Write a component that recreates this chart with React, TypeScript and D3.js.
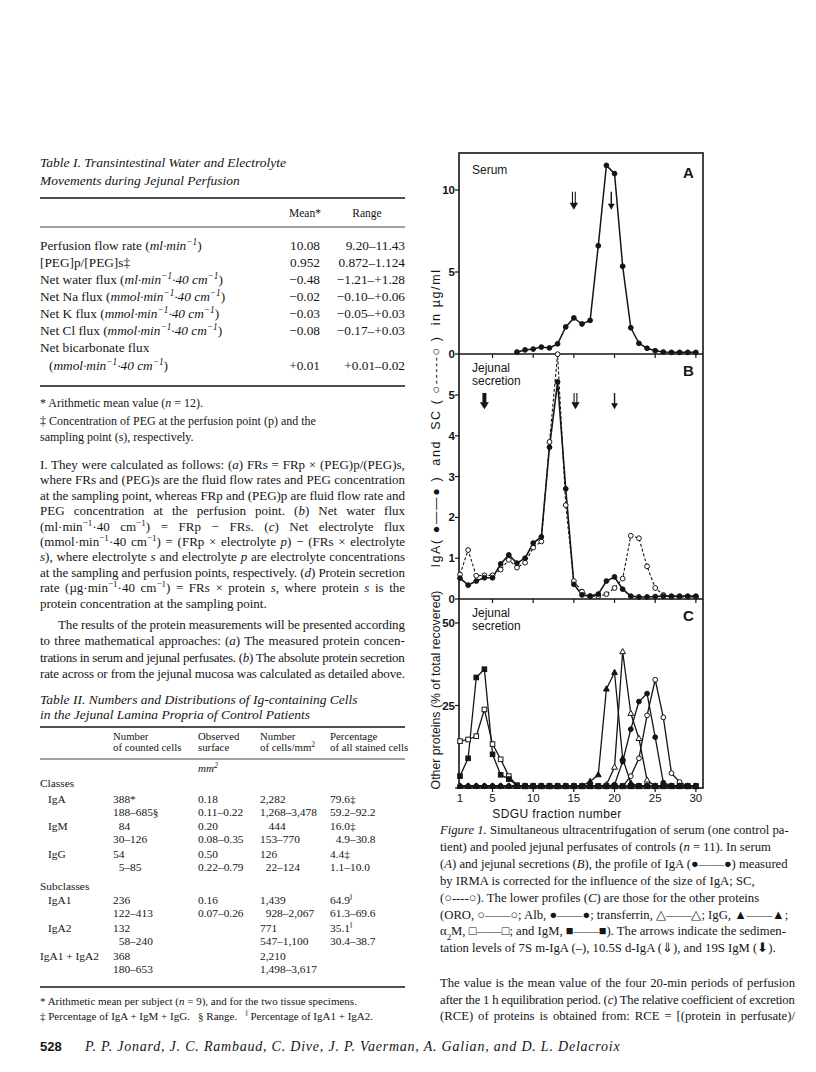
import React from "react";
import * as d3 from "d3";

// ---- figure data ----
const xTicks = [1, 5, 10, 15, 20, 25, 30];

// A: serum IgA, fractions 8..30
const serumFirst = 8;
const serumIgA = [0.12, 0.25, 0.3, 0.42, 0.37, 0.62, 1.65, 2.2, 1.83, 2.05, 6.6, 11.5, 11.0, 5.35, 1.6, 0.65, 0.35, 0.2, 0.12, 0.1, 0.1, 0.1, 0.1];

// B: jejunal secretion, fractions 1..30
const jejIgA = [0.51, 0.34, 0.44, 0.52, 0.52, 0.86, 1.08, 0.88, 1.0, 1.37, 1.52, 3.72, 5.32, 2.7, 0.36, 0.1, 0.07, 0.12, 0.44, 0.54, 0.24, 0.07, 0.05, 0.05, 0.06, 0.07, 0.07, 0.07, 0.07, 0.07];
const jejSC = [0.6, 1.2, 0.57, 0.58, 0.58, 0.72, 0.96, 0.77, 0.89, 1.26, 1.41, 3.85, 6.0, 2.3, 0.44, 0.18, 0.07, 0.07, 0.12, 0.27, 0.5, 1.55, 1.49, 0.8, 0.27, 0.1, 0.05, 0.05, 0.05, 0.05];

// C: other proteins, % of total recovered, fractions 1..30
const oro = [0.5, 0.5, 0.5, 0.5, 0.5, 0.5, 0.5, 0.5, 0.5, 0.5, 0.5, 0.5, 0.5, 0.5, 0.5, 0.5, 0.5, 0.5, 0.5, 0.5, 0.5, 3.6, 9, 22, 32.8, 21.4, 4.5, 1.8, 0.5, 0.5];
const alb = [0.6, 0.6, 0.6, 0.6, 0.6, 0.6, 0.6, 0.6, 0.6, 0.6, 0.6, 0.6, 0.6, 0.6, 0.6, 0.6, 0.6, 0.6, 0.6, 1, 8, 17.8, 26.2, 28.6, 15.4, 1.6, 0.6, 0.6, 0.6, 0.6];
const transferrin = [0.5, 0.5, 0.5, 0.5, 0.5, 0.5, 0.5, 0.5, 0.5, 0.5, 0.5, 0.5, 0.5, 0.5, 0.5, 0.5, 0.5, 0.5, 1, 6.3, 41.3, 22.6, 15, 2.4, 0.5, 0.5, 0.5, 0.5, 0.5, 0.5];
const igg = [0.6, 0.6, 0.6, 0.6, 0.6, 0.6, 0.6, 0.6, 0.6, 0.6, 0.6, 0.6, 0.6, 0.6, 0.6, 0.6, 2, 4, 30, 35, 9, 1.5, 0.6, 0.6, 0.6, 0.6, 0.6, 0.6, 0.6, 0.6];
const a2m = [14.2, 14.7, 15.7, 23.8, 13.3, 8.7, 3.6, 0.8, 0.5, 0.5, 0.5, 0.5, 0.5, 0.5, 0.5, 0.5, 0.5, 0.5, 0.5, 0.5, 0.5, 0.5, 0.5, 0.5, 0.5, 0.5, 0.5, 0.5, 0.5, 0.5];
const igm = [3.6, 9, 33.5, 36, 10.2, 4, 2.7, 0.8, 0.6, 0.6, 0.6, 0.6, 0.6, 0.6, 0.6, 0.6, 0.6, 0.6, 0.6, 0.6, 0.6, 0.6, 0.6, 0.6, 0.6, 0.6, 0.6, 0.6, 0.6, 0.6];

const otherSeries = [
  { vals: oro, shape: "circle", filled: false },
  { vals: alb, shape: "circle", filled: true },
  { vals: transferrin, shape: "triangle", filled: false },
  { vals: igg, shape: "triangle", filled: true },
  { vals: a2m, shape: "square", filled: false },
  { vals: igm, shape: "square", filled: true },
];

// sedimentation arrows: panel, fraction, kind
const arrows = [
  { panel: "A", f: 15, kind: "double" },
  { panel: "A", f: 19.6, kind: "thin" },
  { panel: "B", f: 4, kind: "bold" },
  { panel: "B", f: 15.2, kind: "double" },
  { panel: "B", f: 20, kind: "thin" },
];

// ---- page text ----
const t1Title = ["Table I. Transintestinal Water and Electrolyte", "Movements during Jejunal Perfusion"];
const t1Labels = [
  "Perfusion flow rate (_ml·min^−1^_)",
  "[PEG]p/[PEG]s‡",
  "Net water flux (_ml·min^−1^·40 cm^−1^_)",
  "Net Na flux (_mmol·min^−1^·40 cm^−1^_)",
  "Net K flux (_mmol·min^−1^·40 cm^−1^_)",
  "Net Cl flux (_mmol·min^−1^·40 cm^−1^_)",
  "Net bicarbonate flux",
  "(_mmol·min^−1^·40 cm^−1^_)",
];
const t1Mean = ["10.08", "0.952", "−0.48", "−0.02", "−0.03", "−0.08", "", "+0.01"];
const t1Range = ["9.20–11.43", "0.872–1.124", "−1.21–+1.28", "−0.10–+0.06", "−0.05–+0.03", "−0.17–+0.03", "", "+0.01–0.02"];
const t1Notes = [
  "* Arithmetic mean value (_n_ = 12).",
  "‡ Concentration of PEG at the perfusion point (p) and the",
  "sampling point (s), respectively.",
];

const para1 = [
  "I. They were calculated as follows: (_a_) FRs = FRp × (PEG)p/(PEG)s,",
  "where FRs and (PEG)s are the fluid flow rates and PEG concentration",
  "at the sampling point, whereas FRp and (PEG)p are fluid flow rate and",
  "PEG concentration at the perfusion point. (_b_) Net water flux",
  "(ml·min^−1^·40 cm^−1^) = FRp − FRs. (_c_) Net electrolyte flux",
  "(mmol·min^−1^·40 cm^−1^) = (FRp × electrolyte _p_) − (FRs × electrolyte",
  "_s_), where electrolyte _s_ and electrolyte _p_ are electrolyte concentrations",
  "at the sampling and perfusion points, respectively. (_d_) Protein secretion",
  "rate (µg·min^−1^·40 cm^−1^) = FRs × protein _s_, where protein _s_ is the",
  "protein concentration at the sampling point.",
];
const para2 = [
  "The results of the protein measurements will be presented according",
  "to three mathematical approaches: (_a_) The measured protein concen-",
  "trations in serum and jejunal perfusates. (_b_) The absolute protein secretion",
  "rate across or from the jejunal mucosa was calculated as detailed above.",
];

const t2Title = ["Table II. Numbers and Distributions of Ig-containing Cells", "in the Jejunal Lamina Propria of Control Patients"];
const t2Head1 = ["Number", "Observed", "Number", "Percentage"];
const t2Head2 = ["of counted cells", "surface", "of cells/mm^2^", "of all stained cells"];
const t2Rows = [
  { label: "Classes", sub: false, cells: ["", "", "", ""] },
  { label: "IgA", sub: true, cells: ["388*", "0.18", "2,282", "79.6‡"] },
  { label: "", sub: true, cells: ["188–685§", "0.11–0.22", "1,268–3,478", "59.2–92.2"] },
  { label: "IgM", sub: true, cells: ["  84", "0.20", "   444", "16.0‡"] },
  { label: "", sub: true, cells: ["30–126", "0.08–0.35", "153–770", "  4.9–30.8"] },
  { label: "IgG", sub: true, cells: ["54", "0.50", "126", "4.4‡"] },
  { label: "", sub: true, cells: ["  5–85", "0.22–0.79", "  22–124", "1.1–10.0"] },
  { label: "Subclasses", sub: false, cells: ["", "", "", ""] },
  { label: "IgA1", sub: true, cells: ["236", "0.16", "1,439", "64.9^‖^"] },
  { label: "", sub: true, cells: ["122–413", "0.07–0.26", "  928–2,067", "61.3–69.6"] },
  { label: "IgA2", sub: true, cells: ["132", "", "771", "35.1^‖^"] },
  { label: "", sub: true, cells: ["  58–240", "", "547–1,100", "30.4–38.7"] },
  { label: "IgA1 + IgA2", sub: false, cells: ["368", "", "2,210", ""] },
  { label: "", sub: false, cells: ["180–653", "", "1,498–3,617", ""] },
];
const t2Notes = [
  "* Arithmetic mean per subject (_n_ = 9), and for the two tissue specimens.",
  "‡ Percentage of IgA + IgM + IgG.   § Range.   ^‖^ Percentage of IgA1 + IgA2.",
];

const caption = [
  "_Figure 1._ Simultaneous ultracentrifugation of serum (one control pa-",
  "tient) and pooled jejunal perfusates of controls (_n_ = 11). In serum",
  "(_A_) and jejunal secretions (_B_), the profile of IgA (●——●) measured",
  "by IRMA is corrected for the influence of the size of IgA; SC,",
  "(○----○). The lower profiles (_C_) are those for the other proteins",
  "(ORO, ○——○; Alb, ●——●; transferrin, △——△; IgG, ▲——▲;",
  "α~2~M, □——□; and IgM, ■——■). The arrows indicate the sedimen-",
  "tation levels of 7S m-IgA (–), 10.5S d-IgA (⇓), and 19S IgM (⬇).",
];
const para3 = [
  "The value is the mean value of the four 20-min periods of perfusion",
  "after the 1 h equilibration period. (_c_) The relative coefficient of excretion",
  "(RCE) of proteins is obtained from: RCE = [(protein in perfusate)/",
];
const footer = "P. P. Jonard, J. C. Rambaud, C. Dive, J. P. Vaerman, A. Galian, and D. L. Delacroix";

const serif = "'Liberation Serif', 'Times New Roman', serif";
const sans = "'Liberation Sans', Arial, sans-serif";
const ink = "#151515";

// tiny markup: _italic_, ^super^, ~sub~
function parse(s: string) {
  const segs: { t: string; i: boolean; sup: boolean; sub: boolean }[] = [];
  let i = false, sup = false, sub = false, cur = "";
  const push = () => { if (cur) segs.push({ t: cur, i, sup, sub }); cur = ""; };
  for (const ch of s) {
    if (ch === "_") { push(); i = !i; }
    else if (ch === "^") { push(); sup = !sup; }
    else if (ch === "~") { push(); sub = !sub; }
    else cur += ch;
  }
  push();
  return segs;
}

let ctx: CanvasRenderingContext2D | null = null;
function measure(s: string, size: number, family: string, italic: boolean) {
  if (!ctx && typeof document !== "undefined") ctx = document.createElement("canvas").getContext("2d");
  if (!ctx) return 0;
  let w = 0;
  for (const g of parse(s)) {
    const fs = g.sup || g.sub ? size * 0.7 : size;
    ctx.font = `${g.i !== italic ? "italic " : ""}${fs}px ${family}`;
    w += ctx.measureText(g.t).width;
  }
  return w;
}

// justified lines: widen word gaps, or tighten letters when the line is too long
function RT({ x, y, s, size = 13, family = serif, anchor = "start", width, italic = false, weight = "normal", letters = false }: any) {
  const segs = parse(s);
  let ws = 0, ls = 0;
  if (width) {
    const plain = segs.map((g) => g.t).join("");
    const spaces = (plain.match(/ /g) || []).length;
    const gap = width - measure(s, size, family, italic);
    if (letters || gap < 0 || !spaces) ls = gap / Math.max(plain.length - 1, 1);
    else ws = gap / spaces;
  }
  return (
    <text x={x} y={y} fontSize={size} fontFamily={family} textAnchor={anchor} fontWeight={weight}
      fill={ink} style={{ whiteSpace: "pre", wordSpacing: ws ? `${ws}px` : undefined, letterSpacing: ls ? `${ls}px` : undefined }}>
      {segs.map((g, k) => (
        <tspan key={k} fontStyle={g.i !== italic ? "italic" : "normal"}
          baselineShift={g.sup ? "super" : g.sub ? "sub" : undefined}
          fontSize={g.sup || g.sub ? size * 0.7 : undefined}>{g.t}</tspan>
      ))}
    </text>
  );
}

function Marker({ shape, filled, cx, cy }: any) {
  const fill = filled ? ink : "#fff";
  if (shape === "circle") return <circle cx={cx} cy={cy} r={2.4} fill={fill} stroke={ink} strokeWidth={1} />;
  if (shape === "square") return <rect x={cx - 2.3} y={cy - 2.3} width={4.6} height={4.6} fill={fill} stroke={ink} strokeWidth={1} />;
  return <path d={`M${cx},${cy - 3.2}L${cx + 2.9},${cy + 2}L${cx - 2.9},${cy + 2}Z`} fill={fill} stroke={ink} strokeWidth={1} />;
}

function Arrow({ kind, x, y1, y2 }: any) {
  const hw = kind === "bold" ? 4.5 : kind === "double" ? 4.2 : 3.4;
  const hh = kind === "thin" ? 6 : 7;
  return (
    <g>
      {kind === "thin" && <line x1={x} x2={x} y1={y1} y2={y2 - hh + 1} stroke={ink} strokeWidth={1.4} />}
      {kind === "double" && <>
        <line x1={x - 1.4} x2={x - 1.4} y1={y1} y2={y2 - hh + 1} stroke={ink} strokeWidth={1.1} />
        <line x1={x + 1.4} x2={x + 1.4} y1={y1} y2={y2 - hh + 1} stroke={ink} strokeWidth={1.1} />
      </>}
      {kind === "bold" && <rect x={x - 2} y={y1} width={4} height={y2 - y1 - hh + 1} fill={ink} />}
      <path d={`M${x - hw},${y2 - hh}L${x + hw},${y2 - hh}L${x},${y2}Z`} fill={ink} />
    </g>
  );
}

const App = () => {
  // chart frame
  const left = 459, right = 703, top = 153, bottom = 788;
  const x = d3.scaleLinear().domain([1, 31]).range([460, 704]);
  const yA = d3.scaleLinear().domain([0, 10]).range([354, 190]);
  const yB = d3.scaleLinear().domain([0, 5]).range([599, 395]);
  const yC = d3.scaleLinear().domain([0, 50]).range([788, 623]);

  const lineFrom = (y: any, first: number) =>
    d3.line<number>().x((_, i) => x(first + i)).y((v) => y(v));

  const arrowY: any = { A: [yA(9.9), yA(8.8)], B: [yB(5.05), yB(4.65)] };
  const leftTicks = [
    ...[0, 5, 10].map((v) => ({ y: yA(v), label: String(v) })),
    ...[0, 1, 2, 3, 4, 5].map((v) => ({ y: yB(v), label: String(v) })),
    ...[0, 25, 50].map((v) => ({ y: yC(v), label: v === 0 ? "" : String(v) })),
  ];

  // page layout rows
  const t1RowY = [250, 267, 284, 301, 318, 335, 352, 370];
  const t2RowY = [787, 803, 816, 830, 843, 858, 871, 890, 904, 917, 932, 945, 960, 973];
  const t2ColX = [113, 198, 260, 330];

  return (
    <svg width={816} height={1072} viewBox="0 0 816 1072" style={{ display: "block", position: "absolute", left: 0, top: 0, background: "#fff" }}>
      <rect width={816} height={1072} fill="#fff" />

      {/* ---------- Table I ---------- */}
      {t1Title.map((t, i) => <RT key={t} x={40} y={167 + i * 18} s={t} size={13.5} italic />)}
      <line x1={40} x2={405} y1={198} y2={198} stroke={ink} strokeWidth={1.3} />
      <RT x={305} y={217} s="Mean*" size={11.5} anchor="middle" />
      <RT x={367} y={217} s="Range" size={11.5} anchor="middle" />
      <line x1={40} x2={405} y1={227} y2={227} stroke={ink} strokeWidth={0.8} />
      {t1Labels.map((t, i) => <RT key={i} x={i === 7 ? 49 : 40} y={t1RowY[i]} s={t} size={13.3} />)}
      {t1Mean.map((t, i) => <RT key={i} x={320} y={t1RowY[i]} s={t} size={13.3} anchor="end" />)}
      {t1Range.map((t, i) => <RT key={i} x={405} y={t1RowY[i]} s={t} size={13.3} anchor="end" />)}
      <line x1={40} x2={405} y1={386} y2={386} stroke={ink} strokeWidth={1.3} />
      {t1Notes.map((t, i) => <RT key={i} x={40} y={407 + [0, 18, 34][i]} s={t} size={12} />)}

      {/* ---------- text ---------- */}
      {para1.map((t, i) => <RT key={i} x={40} y={469 + i * 15.4} s={t} size={13} width={i < para1.length - 1 ? 365 : undefined} />)}
      {para2.map((t, i) => <RT key={i} x={i === 0 ? 58 : 40} y={629 + i * 16.3} s={t} size={13} width={i === 0 ? 347 : 365} />)}

      {/* ---------- Table II ---------- */}
      {t2Title.map((t, i) => <RT key={t} x={40} y={704 + i * 15} s={t} size={13.5} italic />)}
      <line x1={40} x2={405} y1={727} y2={727} stroke={ink} strokeWidth={1.3} />
      {t2Head1.map((t, i) => <RT key={i} x={t2ColX[i]} y={740} s={t} size={10.8} />)}
      {t2Head2.map((t, i) => <RT key={i} x={t2ColX[i]} y={751} s={t} size={10.8} />)}
      <line x1={40} x2={405} y1={759} y2={759} stroke={ink} strokeWidth={0.8} />
      <RT x={t2ColX[1]} y={772} s="_mm^2^_" size={11} />
      {t2Rows.map((r, i) => (
        <g key={i}>
          <RT x={r.sub ? 48 : 40} y={t2RowY[i]} s={r.label} size={11.4} />
          {r.cells.map((c, j) => <RT key={j} x={t2ColX[j]} y={t2RowY[i]} s={c} size={11.4} />)}
        </g>
      ))}
      <line x1={40} x2={405} y1={987} y2={987} stroke={ink} strokeWidth={1.3} />
      {t2Notes.map((t, i) => <RT key={i} x={40} y={1005 + i * 15} s={t} size={11} />)}

      {/* ---------- footer ---------- */}
      <text x={40} y={1051} fontFamily={sans} fontWeight="bold" fontSize={13} fill={ink}>528</text>
      <RT x={85} y={1051} s={footer} size={14} italic width={535} letters />

      {/* ---------- caption ---------- */}
      {caption.map((t, i) => <RT key={i} x={440} y={834 + i * 16.9} s={t} size={12.7} />)}
      {para3.map((t, i) => <RT key={i} x={440} y={987 + i * 16.5} s={t} size={12.7} width={355} />)}

      {/* ---------- Figure 1 ---------- */}
      <g>
        {/* panel separators and frame */}
        <rect x={left} y={top} width={right - left} height={bottom - top} fill="none" stroke={ink} strokeWidth={1.6} />
        <line x1={left} x2={right} y1={yA(0)} y2={yA(0)} stroke={ink} strokeWidth={1.6} />
        <line x1={left} x2={right} y1={yB(0)} y2={yB(0)} stroke={ink} strokeWidth={1.6} />

        {/* x ticks on each baseline */}
        {[yA(0), yB(0), yC(0)].map((yy, k) =>
          xTicks.slice(1).map((t) => <line key={k + "-" + t} x1={x(t)} x2={x(t)} y1={yy} y2={yy + 4} stroke={ink} strokeWidth={1.2} />)
        )}
        {xTicks.map((t) => (
          <text key={t} x={x(t)} y={802} textAnchor="middle" fontFamily={sans} fontSize={11.5} fill={ink}>{t}</text>
        ))}
        <text x={557} y={818} textAnchor="middle" fontFamily={sans} fontSize={12} fill={ink} letterSpacing={0.4}>SDGU fraction number</text>

        {/* y ticks */}
        {leftTicks.map((t, i) => (
          <g key={i}>
            <line x1={left - 4} x2={left} y1={t.y} y2={t.y} stroke={ink} strokeWidth={1.2} />
            <text x={455} y={t.y + 4} textAnchor="end" fontFamily={sans} fontWeight="bold" fontSize={11.5} fill={ink}>{t.label}</text>
          </g>
        ))}
        <text transform="translate(440,418) rotate(-90)" textAnchor="middle" fontFamily={sans} fontSize={12.5} fill={ink}
          letterSpacing={1.6} style={{ whiteSpace: "pre" }}>IgA( ●——● )  and  SC ( ○-----○ )  in µg/ml</text>
        <text transform="translate(440,690) rotate(-90)" textAnchor="middle" fontFamily={sans} fontSize={12.3} fill={ink}>Other proteins (% of total recovered)</text>

        {/* panel labels */}
        <text x={683} y={178} fontFamily={sans} fontWeight="bold" fontSize={15} fill={ink}>A</text>
        <text x={683} y={376} fontFamily={sans} fontWeight="bold" fontSize={15} fill={ink}>B</text>
        <text x={683} y={621} fontFamily={sans} fontWeight="bold" fontSize={15} fill={ink}>C</text>
        <text x={472} y={174} fontFamily={sans} fontSize={12} fill={ink}>Serum</text>
        <text x={472} y={372} fontFamily={sans} fontSize={12} fill={ink}>Jejunal</text>
        <text x={472} y={385} fontFamily={sans} fontSize={12} fill={ink}>secretion</text>
        <text x={472} y={617} fontFamily={sans} fontSize={12} fill={ink}>Jejunal</text>
        <text x={472} y={630} fontFamily={sans} fontSize={12} fill={ink}>secretion</text>

        {arrows.map((a, i) => <Arrow key={i} kind={a.kind} x={x(a.f)} y1={arrowY[a.panel][0]} y2={arrowY[a.panel][1]} />)}

        {/* A: serum IgA */}
        <path d={lineFrom(yA, serumFirst)(serumIgA) || ""} fill="none" stroke={ink} strokeWidth={1.5} />
        {serumIgA.map((v, i) => <Marker key={i} shape="circle" filled cx={x(serumFirst + i)} cy={yA(v)} />)}

        {/* B: jejunal SC (dashed) and IgA */}
        <path d={lineFrom(yB, 1)(jejSC) || ""} fill="none" stroke={ink} strokeWidth={1.1} strokeDasharray="3,2" />
        <path d={lineFrom(yB, 1)(jejIgA) || ""} fill="none" stroke={ink} strokeWidth={1.6} />
        {jejSC.map((v, i) => <Marker key={"s" + i} shape="circle" filled={false} cx={x(1 + i)} cy={yB(v)} />)}
        {jejIgA.map((v, i) => <Marker key={"a" + i} shape="circle" filled cx={x(1 + i)} cy={yB(v)} />)}

        {/* C: other proteins */}
        {otherSeries.map((s, k) => (
          <path key={k} d={lineFrom(yC, 1)(s.vals) || ""} fill="none" stroke={ink} strokeWidth={1.3} />
        ))}
        {otherSeries.map((s, k) => s.vals.map((v, i) => (
          <Marker key={k + "-" + i} shape={s.shape} filled={s.filled} cx={x(1 + i)} cy={yC(v)} />
        )))}
      </g>
    </svg>
  );
};

export default App;
